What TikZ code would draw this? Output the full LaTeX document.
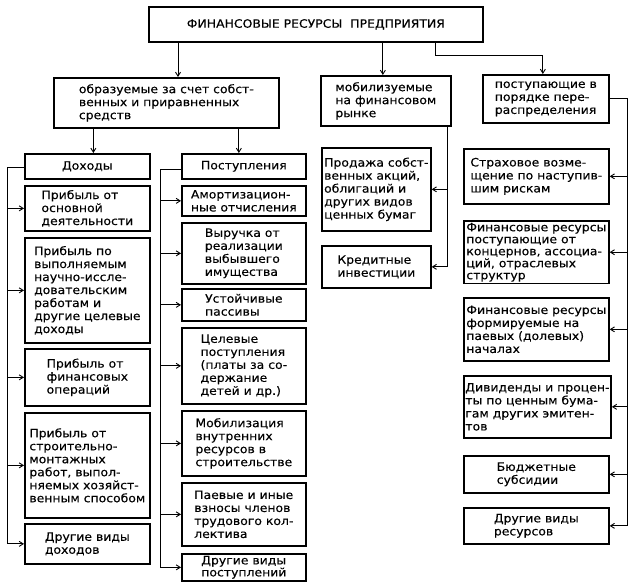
\documentclass[tikz,border=0pt]{standalone}
\usepackage{fontspec}
\setmainfont{DejaVu Sans}[FakeStretch=1.08, FakeBold=0.3]
\usepackage{tikz}
\usetikzlibrary{positioning}
\usetikzlibrary{arrows.meta}

\begin{document}
\begin{tikzpicture}[
  x=1pt, y=-1pt,
  every node/.style={font=\fontsize{11.5}{13}\selectfont},
  box/.style={draw, line width=1.7pt, inner xsep=1.5pt, inner ysep=2pt, align=left, anchor=north west},
  tight/.style={font=\fontsize{11.5}{12}\selectfont},
  link/.style={line width=0.9pt},
  >={Straight Barb[length=4pt,width=5pt]}
]
\useasboundingbox (0,0) rectangle (635,586);

% top level
\node[box, align=center, minimum width=334, minimum height=35, font=\fontsize{11.5}{12}\selectfont] (fin) at (148,6)
  {ФИНАНСОВЫЕ РЕСУРСЫ\ \ ПРЕДПРИЯТИЯ};
\node[box, minimum width=225, minimum height=50] (own) at (53,77)
  {образуемые за счет собст-\\венных и приравненных\\средств};
\node[box, minimum width=130, minimum height=50] (market) at (320,75)
  {мобилизуемые\\на финансовом\\рынке};
\node[box, minimum width=126, minimum height=48] (redistr) at (482,74)
  {поступающие в\\порядке пере-\\распределения};

% own funds: incomes
\node[box, align=center, minimum width=125, minimum height=25] (inc) at (24,153) {Доходы};
\node[box, minimum width=125, minimum height=45] (inc1) at (24,185)
  {Прибыль от\\основной\\деятельности};
\node[box, minimum width=125, minimum height=105] (inc2) at (24,237)
  {Прибыль по\\выполняемым\\научно-иссле-\\довательским\\работам и\\другие целевые\\доходы};
\node[box, minimum width=125, minimum height=57] (inc3) at (24,348)
  {Прибыль от\\финансовых\\операций};
\node[box, minimum width=125, minimum height=105] (inc4) at (24,412)
  {Прибыль от\\строительно-\\монтажных\\работ, выпол-\\няемых хозяйст-\\венным способом};
\node[box, minimum width=125, minimum height=40] (inc5) at (24,523)
  {Другие виды\\доходов};

% own funds: receipts
\node[box, align=center, minimum width=124, minimum height=25] (rec) at (181,153) {Поступления};
\node[box, minimum width=124, minimum height=30] (rec1) at (181,185)
  {Амортизацион-\\ные отчисления};
\node[box, minimum width=124, minimum height=61] (rec2) at (181,222)
  {Выручка от\\реализации\\выбывшего\\имущества};
\node[box, minimum width=124, minimum height=32] (rec3) at (181,288)
  {Устойчивые\\пассивы};
\node[box, minimum width=124, minimum height=76] (rec4) at (181,327)
  {Целевые\\поступления\\(платы за со-\\держание\\детей и др.)};
\node[box, minimum width=124, minimum height=65] (rec5) at (181,410)
  {Мобилизация\\внутренних\\ресурсов в\\строительстве};
\node[box, minimum width=124, minimum height=63] (rec6) at (181,482)
  {Паевые и иные\\взносы членов\\трудового кол-\\лектива};
\node[box, minimum width=124, minimum height=27, tight] (rec7) at (181,553)
  {Другие виды\\поступлений};

% financial market
\node[box, minimum width=109, minimum height=83] (sale) at (321,147)
  {Продажа собст-\\венных акций,\\облигаций и\\других видов\\ценных бумаг};
\node[box, minimum width=109, minimum height=42] (credit) at (321,245)
  {Кредитные\\инвестиции};

% redistribution
\node[box, minimum width=145, minimum height=55] (red1) at (463,148)
  {Страховое возме-\\щение по наступив-\\шим рискам};
\node[box, minimum width=145, minimum height=62, tight] (red2) at (463,220)
  {Финансовые ресурсы\\поступающие от\\концернов, ассоциа-\\ций, отраслевых\\структур};
\node[box, minimum width=145, minimum height=63] (red3) at (463,297)
  {Финансовые ресурсы\\формируемые на\\паевых (долевых)\\началах};
\node[box, minimum width=145, minimum height=62] (red4) at (463,375)
  {Дивиденды и процен-\\ты по ценным бума-\\гам других эмитен-\\тов};
\node[box, minimum width=145, minimum height=37] (red5) at (463,455)
  {Бюджетные\\субсидии};
\node[box, minimum width=145, minimum height=36] (red6) at (463,507)
  {Другие виды\\ресурсов};

% bus lines
\coordinate (lbus) at (7,0);
\coordinate (mbus) at (160,0);
\coordinate (fbus) at (447,0);
\coordinate (rbus) at (627,0);

% top level arrows
\draw[link,->] ([xshift=30pt]fin.south west) -- ([xshift=30pt]fin.south west |- own.north);
\draw[link,->] ([xshift=-3pt]fin.south -| market.north) -- ([xshift=-3pt]market.north);
\draw[link,->] ([xshift=287pt]fin.south west) -- ++(0,13) -| ([xshift=-3pt]redistr.north);
\draw[link,->] ([xshift=6pt]inc.north |- own.south) -- ([xshift=6pt]inc.north);
\draw[link,->] ([xshift=-5pt]rec.north |- own.south) -- ([xshift=-5pt]rec.north);

% incomes
\draw[link] ([yshift=-1pt]inc.west) -| (lbus |- inc5.west);
\draw[link,->] (lbus |- inc1.west) -- (inc1.west);
\draw[link,->] (lbus |- inc2.west) -- (inc2.west);
\draw[link,->] (lbus |- inc3.west) -- (inc3.west);
\draw[link,->] (lbus |- inc4.west) -- (inc4.west);
\draw[link,->] (lbus |- inc5.west) -- (inc5.west);

% receipts
\draw[link] ([yshift=-3pt]rec.west) -| (mbus |- rec7.west);
\draw[link,->] (mbus |- rec1.west) -- (rec1.west);
\draw[link,->] (mbus |- rec2.west) -- (rec2.west);
\draw[link,->] (mbus |- rec3.west) -- (rec3.west);
\draw[link,->] (mbus |- rec4.west) -- (rec4.west);
\draw[link,->] (mbus |- rec5.west) -- (rec5.west);
\draw[link,->] (mbus |- rec6.west) -- (rec6.west);
\draw[link,->] (mbus |- rec7.west) -- (rec7.west);

% financial market
\draw[link] (fbus |- market.south) -- (fbus |- credit.east);
\draw[link,->] (fbus |- sale.east) -- (sale.east);
\draw[link,->] (fbus |- credit.east) -- (credit.east);

% redistribution
\draw[link] (redistr.east) -| (rbus |- red6.east);
\draw[link,->] (rbus |- red1.east) -- (red1.east);
\draw[link,->] (rbus |- red2.east) -- (red2.east);
\draw[link,->] (rbus |- red3.east) -- (red3.east);
\draw[link,->] (rbus |- red4.east) -- (red4.east);
\draw[link,->] (rbus |- red5.east) -- (red5.east);
\draw[link,->] (rbus |- red6.east) -- (red6.east);
\end{tikzpicture}
\end{document}
